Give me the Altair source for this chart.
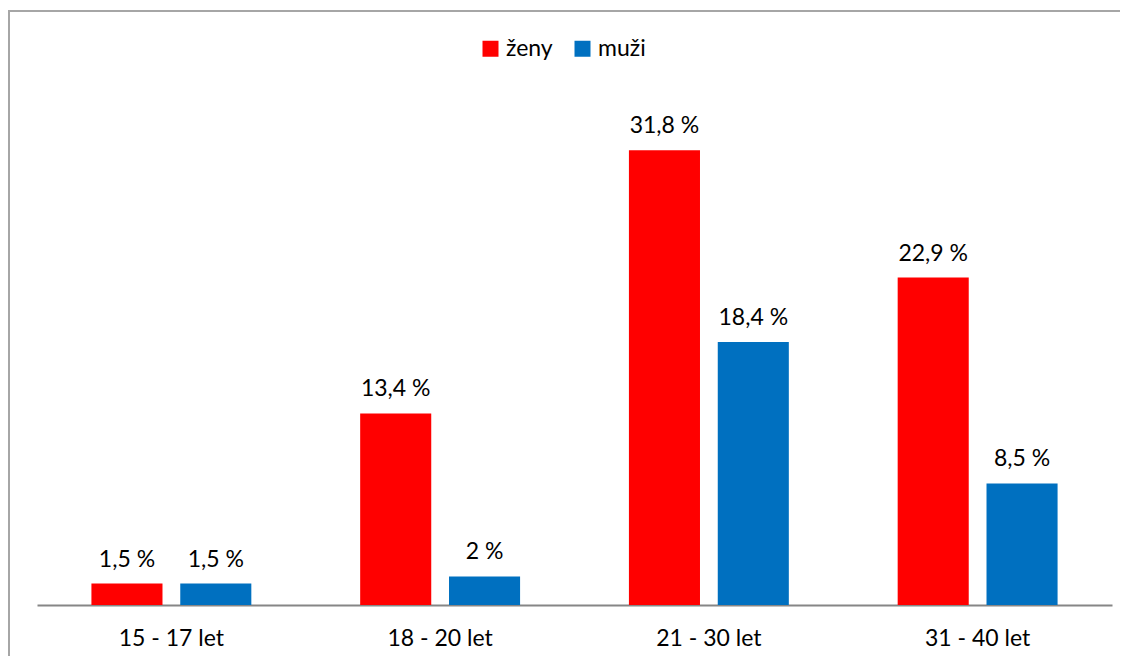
import altair as alt
import pandas as pd

categories = ["15 - 17 let", "18 - 20 let", "21 - 30 let", "31 - 40 let"]
zeny = [1.5, 13.4, 31.8, 22.9]
muzi = [1.5, 2.0, 18.4, 8.5]
series = ["ženy", "muži"]
colors = ["#FF0000", "#0070C0"]


def fmt(v):
    s = ("%.1f" % v).replace(".", ",")
    if s.endswith(",0"):
        s = s[:-2]
    return s + " %"


rows = []
for c, z, m in zip(categories, zeny, muzi):
    rows.append({"vek": c, "pohlavi": "ženy", "hodnota": z, "label": fmt(z)})
    rows.append({"vek": c, "pohlavi": "muži", "hodnota": m, "label": fmt(m)})
df = pd.DataFrame(rows)

FONT = "Lato"
FS = 23
W, H = 1075, 572

x = alt.X("vek:N", sort=categories,
          scale=alt.Scale(paddingInner=0.405, paddingOuter=0.2025),
          axis=alt.Axis(title=None, labelAngle=0, ticks=False, domainColor="#868686",
                        domainWidth=2, labelFontSize=FS, labelFont=FONT,
                        labelFontWeight="normal",
                        labelColor="#000000", labelPadding=22))
xo = alt.XOffset("pohlavi:N", sort=series,
                 scale=alt.Scale(paddingInner=0.2, paddingOuter=0))
y = alt.Y("hodnota:Q", scale=alt.Scale(domain=[0, 40]), axis=None)

bars = alt.Chart(df).mark_bar().encode(
    x=x, xOffset=xo, y=y,
    color=alt.Color("pohlavi:N", sort=series,
                    scale=alt.Scale(domain=series, range=colors),
                    legend=alt.Legend(title=None, orient="none", direction="horizontal",
                                      legendX=442, legendY=4, symbolType="square",
                                      symbolSize=256, symbolStrokeWidth=0,
                                      labelFontSize=FS, labelFont=FONT,
                                      labelColor="#000000", columnPadding=18,
                                      symbolOffset=0, labelOffset=4)),
)

text = alt.Chart(df).mark_text(baseline="alphabetic", dy=-17, fontSize=FS,
                               font=FONT, color="#000000").encode(
    x=x, xOffset=xo, y=y, text="label:N")

border = alt.Chart(pd.DataFrame({"a": [0]})).mark_rect(
    fill=None, stroke="#A6A6A6", strokeWidth=2).encode(
    x=alt.value(-28), x2=alt.value(W + 60), y=alt.value(-22), y2=alt.value(H + 200))

chart = alt.layer(border, bars, text).properties(
    width=W, height=H,
    autosize=alt.AutoSizeParams(type="none"),
    padding={"left": 29, "top": 25, "right": 8, "bottom": 51},
).configure_view(stroke=None)

chart.save("out.html", embed_options={"renderer": "svg", "actions": False})
